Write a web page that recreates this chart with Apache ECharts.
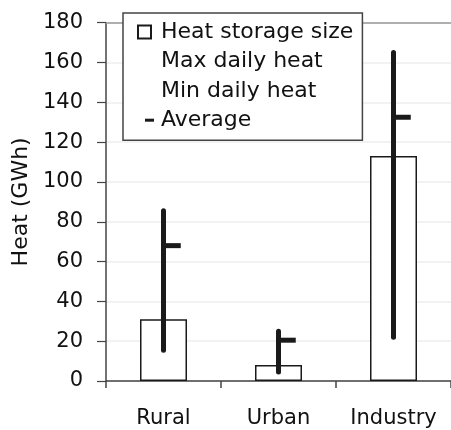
<!DOCTYPE html>
<html><head><meta charset="utf-8">
<script src="https://cdn.jsdelivr.net/npm/echarts@6/dist/echarts.min.js"></script>
<style>html,body{margin:0;padding:0;background:#fff}#c{width:451px;height:430px}</style>
</head><body><div id="c"></div>
<script>
const categories = ['Rural', 'Urban', 'Industry'];
const storageSize = [31, 8, 113];
const maxDaily = [85.5, 25, 165];
const minDaily = [15.5, 4.5, 22];
const average = [68, 20.5, 132.5];
const yMin = 0, yMax = 180, yStep = 20;
const legendNames = ['Heat storage size', 'Max daily heat', 'Min daily heat', 'Average'];
const yTitle = 'Heat (GWh)';

const FONT = 'DejaVu Sans';
const INK = '#1a1a1a';

const chart = echarts.init(document.getElementById('c'), null, {renderer: 'canvas'});

function vLine(params, api) {
  const x = api.value(0);
  const p1 = api.coord([x, api.value(1)]);
  const p2 = api.coord([x, api.value(2)]);
  return {type: 'line', shape: {x1: p1[0], y1: p1[1], x2: p2[0], y2: p2[1]},
    style: {stroke: INK, lineWidth: 5, lineCap: 'round'}};
}

chart.setOption({
  animation: false,
  backgroundColor: '#fff',
  grid: {left: 106, right: 0, top: 22.7, bottom: 49},
  legend: {
    orient: 'vertical', left: 123, top: 13,
    padding: [8, 9, 9, 14],
    borderColor: '#444', borderWidth: 1.5, backgroundColor: '#fff',
    itemWidth: 18, itemHeight: 13, itemGap: 7.4,
    selectedMode: false,
    textStyle: {fontFamily: FONT, fontSize: 22, lineHeight: 22, color: '#111'},
    data: [
      {name: legendNames[0], icon: 'path://M0,0H13V13H0Z M18,13'},
      {name: legendNames[1], icon: 'rect', itemStyle: {opacity: 0}},
      {name: legendNames[2], icon: 'rect', itemStyle: {opacity: 0}},
      {name: legendNames[3], icon: 'path://M0,0 M7,5H16V8H7Z M18,13'}
    ]
  },
  xAxis: [{
    type: 'category', data: categories, position: 'bottom',
    axisLine: {lineStyle: {color: '#444', width: 1.5}},
    axisTick: {show: true, interval: 0, length: 7, lineStyle: {color: '#444', width: 1.5}},
    axisLabel: {fontFamily: FONT, fontSize: 21, color: '#111', margin: 27}
  }, {
    type: 'category', data: categories, position: 'top',
    axisLine: {show: true, lineStyle: {color: '#999', width: 1.5}},
    axisTick: {show: false}, axisLabel: {show: false}
  }],
  yAxis: {
    type: 'value', min: yMin, max: yMax, interval: yStep,
    name: yTitle, nameLocation: 'middle', nameGap: 72,
    nameTextStyle: {fontFamily: FONT, fontSize: 22, color: '#111'},
    axisLine: {show: true, lineStyle: {color: '#444', width: 1.5}},
    axisTick: {show: true, length: 9, lineStyle: {color: '#444', width: 1.2}},
    axisLabel: {fontFamily: FONT, fontSize: 21, color: '#111', margin: 23},
    splitLine: {show: true, lineStyle: {color: '#f2f2f2', width: 2}}
  },
  series: [
    {
      name: legendNames[0], type: 'bar', data: storageSize, barWidth: 47, z: 2,
      itemStyle: {color: '#fff', borderColor: INK, borderWidth: 1.5}
    },
    {
      name: legendNames[1], type: 'custom', renderItem: vLine, z: 5,
      itemStyle: {color: INK},
      encode: {x: 0, y: [1, 2]},
      data: categories.map((c, i) => [i, average[i], maxDaily[i]])
    },
    {
      name: legendNames[2], type: 'custom', renderItem: vLine, z: 5,
      itemStyle: {color: INK},
      encode: {x: 0, y: [1, 2]},
      data: categories.map((c, i) => [i, minDaily[i], average[i]])
    },
    {
      name: legendNames[3], type: 'custom', z: 5,
      itemStyle: {color: INK},
      encode: {x: 0, y: 1},
      renderItem: function (params, api) {
        const p = api.coord([api.value(0), api.value(1)]);
        const w = api.size([1, 0])[0] * 0.15;
        return {type: 'line', shape: {x1: p[0], y1: p[1], x2: p[0] + w, y2: p[1]},
          style: {stroke: INK, lineWidth: 5, lineCap: 'butt'}};
      },
      data: categories.map((c, i) => [i, average[i]])
    }
  ]
});
</script></body></html>
